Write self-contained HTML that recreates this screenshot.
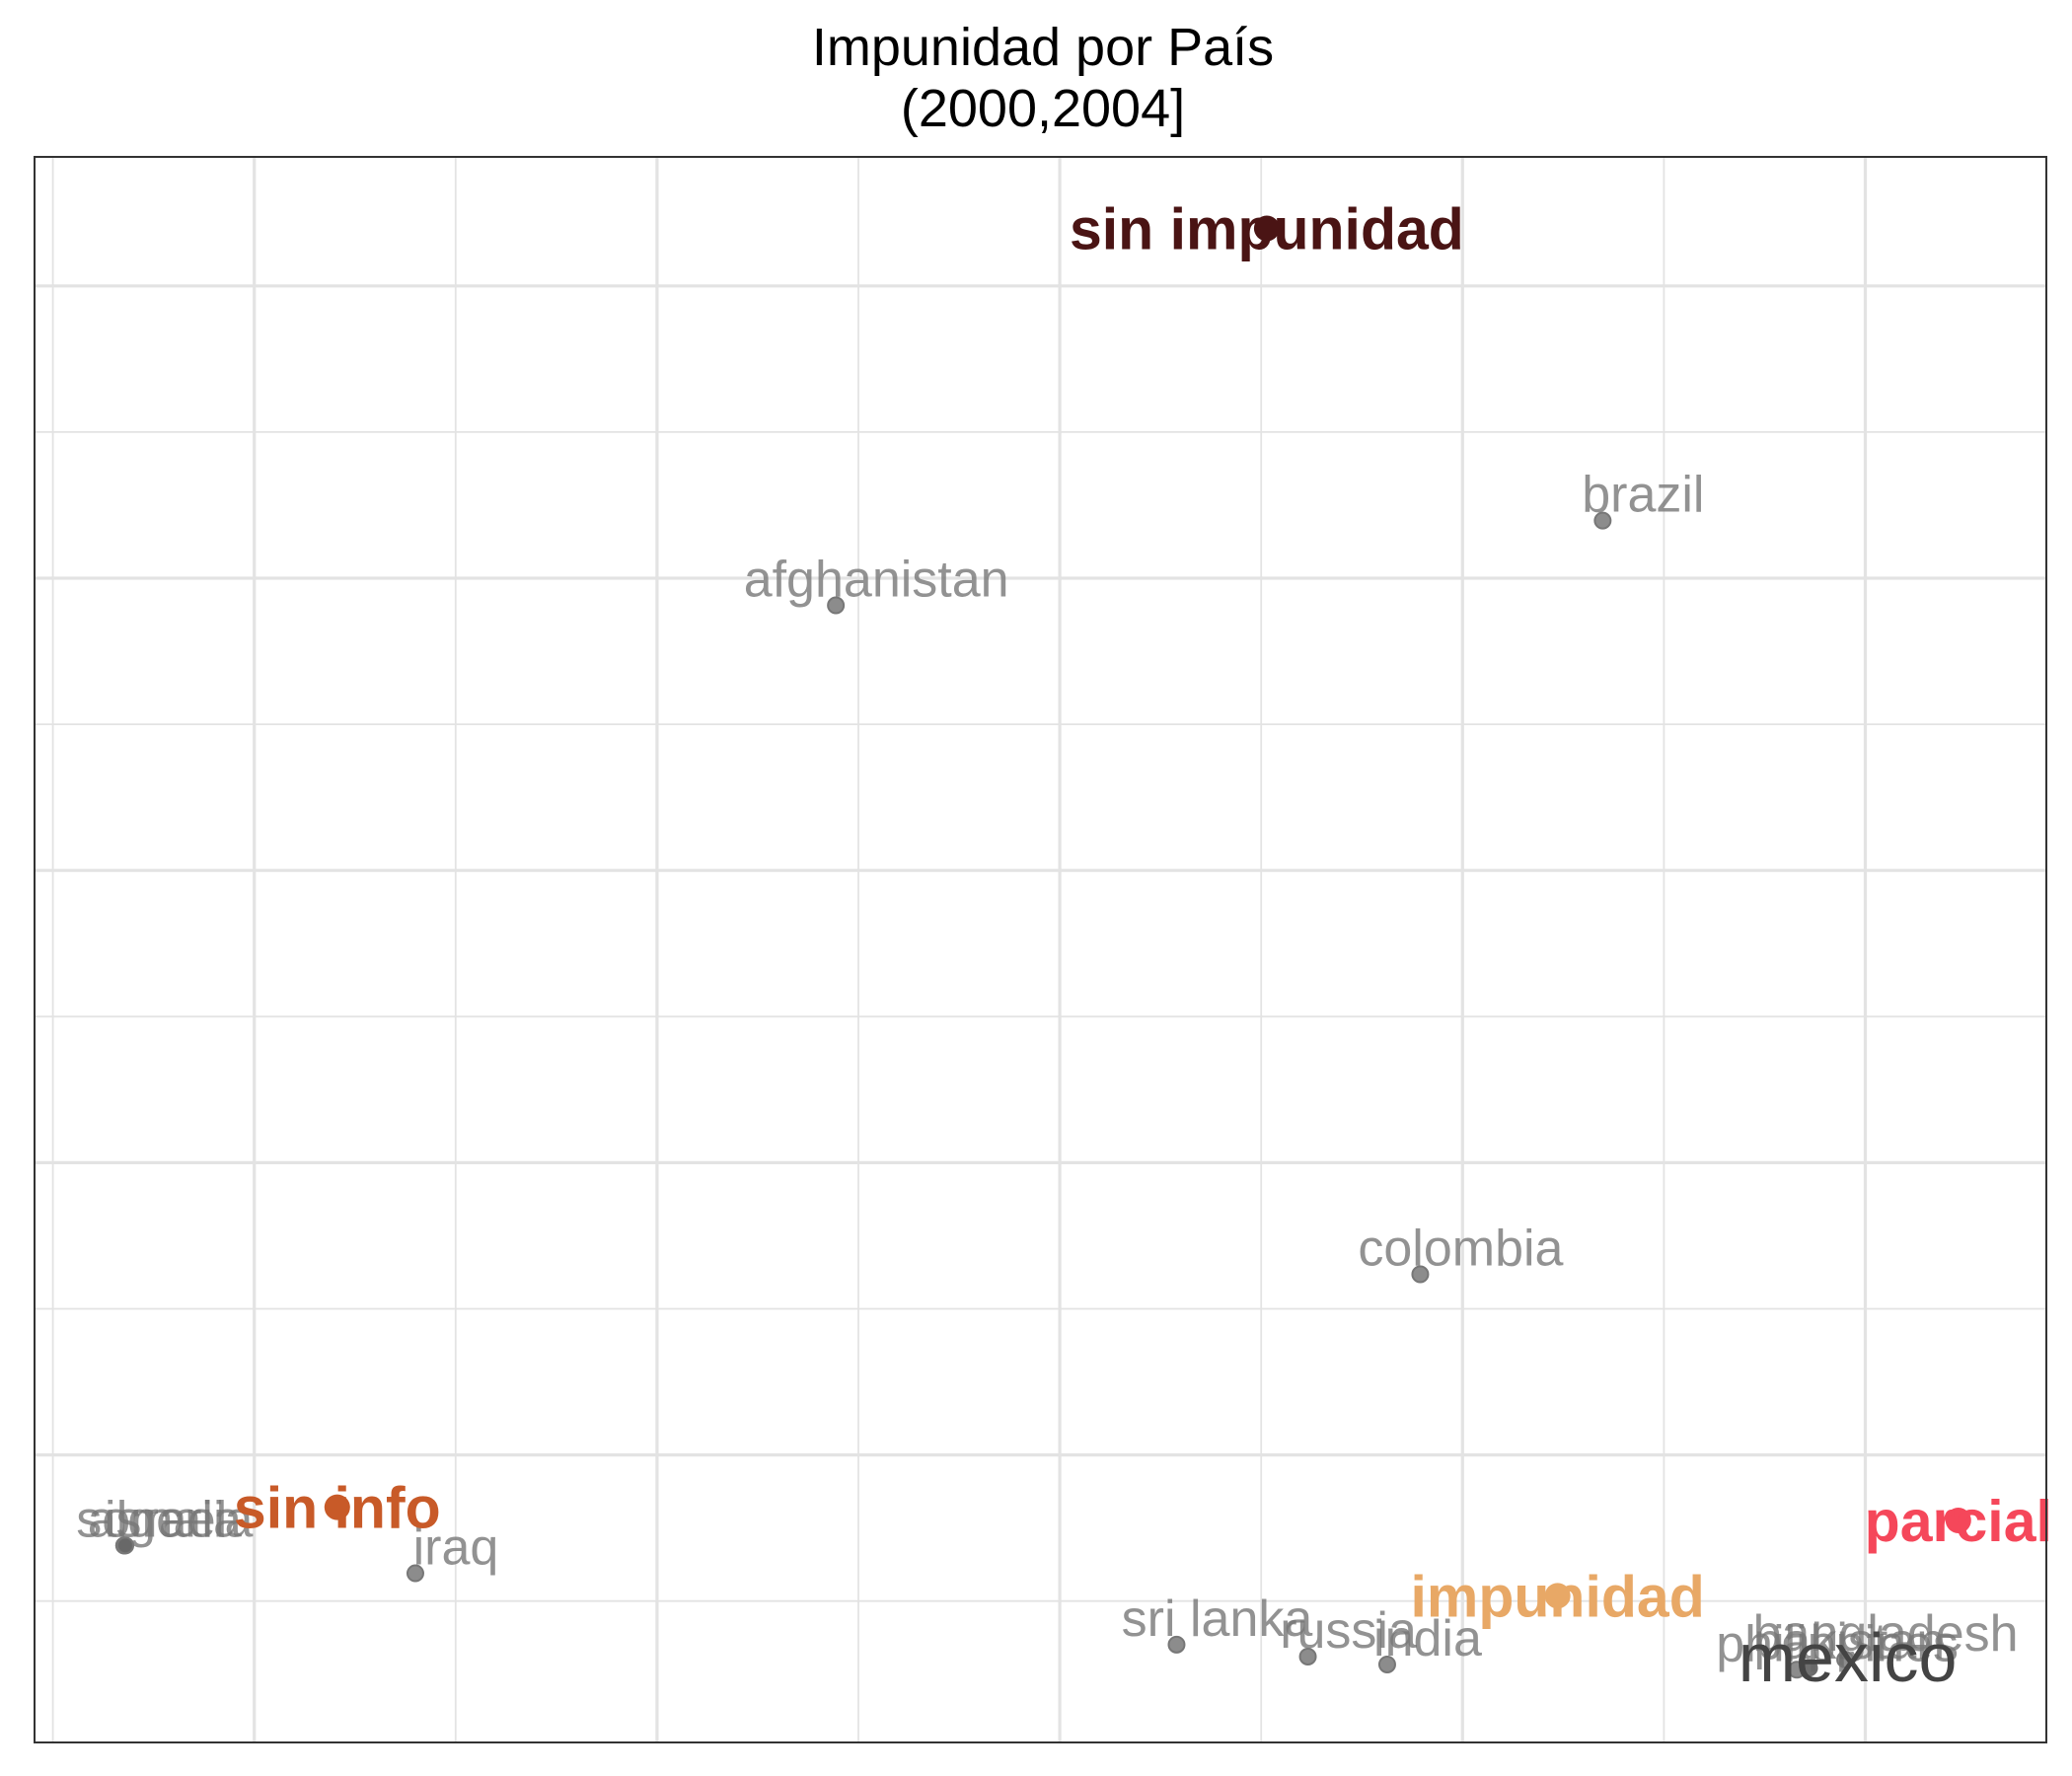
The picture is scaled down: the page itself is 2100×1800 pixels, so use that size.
<!DOCTYPE html>
<html><head><meta charset="utf-8"><style>
html,body{margin:0;padding:0;background:#fff;}
svg{display:block;font-family:"Liberation Sans",sans-serif;}
</style></head><body>
<svg id="chart" width="2100" height="1800" viewBox="0 0 2100 1800">
<rect width="2100" height="1800" fill="#fff"/>
<text x="1057" y="66" font-size="54" text-anchor="middle">Impunidad por País</text>
<text x="1057" y="128" font-size="54" text-anchor="middle">(2000,2004]</text>
<g id="grid"></g>
<g id="marks"></g>
<rect x="35" y="159" width="2039" height="1607" fill="none" stroke="#333" stroke-width="2"/>
</svg>
<script>
const countries = ["somalia","algeria","israel","iraq","afghanistan","brazil","colombia","sri lanka","russia","india","philippines","pakistan","bangladesh"];
const countryX = [0.177,0.177,0.18,0.900,1.944,3.848,3.395,2.79,3.116,3.313,4.33,4.36,4.45];
const countryY = [0.190,0.190,0.19,0.095,3.407,3.697,1.118,-0.149,-0.190,-0.217,-0.235,-0.228,-0.200];
const groups = ["sin impunidad","sin info","parcial","impunidad"];
const groupX = [3.014,0.706,4.731,3.736];
const groupY = [4.697,0.321,0.276,0.018];
const groupColors = ["#4a1414","#c85a28","#f5475a","#e8a866"];
const highlight = ["mexico"];
const highlightX = [4.363];
const highlightY = [-0.230];

const ns="http://www.w3.org/2000/svg";
const X0=53.6, XS=408.2, Y0=1622.7, YS=296.2;
function sx(v){return X0+v*XS;}
function sy(v){return Y0-v*YS;}
const grid=document.getElementById('grid'), marks=document.getElementById('marks');
function mk(tag,attrs,parent){const e=document.createElementNS(ns,tag);for(const k in attrs)e.setAttribute(k,attrs[k]);parent.appendChild(e);return e;}
for(let i=0;i<=9;i++){
  const v=i*0.5, major=i%2===1;
  const l=mk('line',{x1:sx(v),x2:sx(v),y1:159,y2:1766,stroke:'#e3e3e3','stroke-width':major?3.2:1.8},grid);
  
  
}
for(let i=0;i<=9;i++){
  const v=i*0.5, major=i%2===1;
  const l=mk('line',{x1:35,x2:2074,y1:sy(v),y2:sy(v),stroke:'#e3e3e3','stroke-width':major?3.2:1.8},grid);
  
  
}
countries.forEach((c,i)=>{
  const x=sx(countryX[i]), y=sy(countryY[i]);
  const d=mk('circle',{cx:x,cy:y,r:8,fill:'#666','fill-opacity':0.75,stroke:'#777','stroke-width':2},marks);
  
  
  const t=mk('text',{x:x+41,y:y-9,'font-size':52,'text-anchor':'middle',fill:'#777','fill-opacity':0.8},marks);
  t.textContent=c;
  
  
});
highlight.forEach((c,i)=>{
  const x=sx(highlightX[i]), y=sy(highlightY[i]);
  const d=mk('circle',{cx:x,cy:y,r:8,fill:'#666','fill-opacity':0.75},marks);
  
  
  const t=mk('text',{x:x+38,y:y+13,'font-size':70,'text-anchor':'middle',fill:'#444'},marks);
  t.textContent=c;
  
  
});
groups.forEach((g,i)=>{
  const x=sx(groupX[i]), y=sy(groupY[i]);
  const d=mk('circle',{cx:x,cy:y,r:13,fill:groupColors[i]},marks);
  
  
  const t=mk('text',{x:x,y:y+21,'font-size':59,'font-weight':'bold','text-anchor':'middle',fill:groupColors[i]},marks);
  t.textContent=g;
  
  
});
</script>
</body></html>
